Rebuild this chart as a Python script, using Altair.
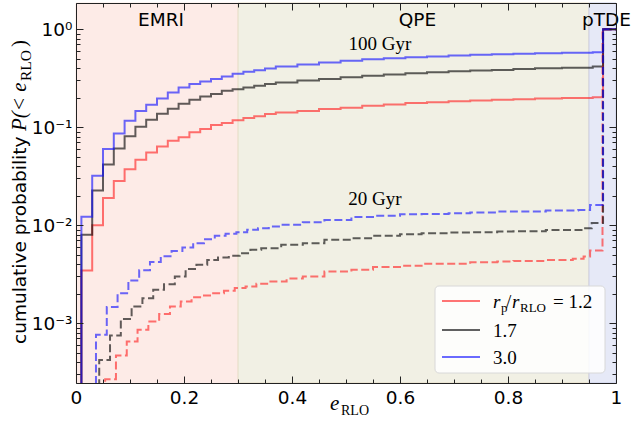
import altair as alt
import pandas as pd

# ---------------- data ----------------
regions = ["EMRI", "QPE", "pTDE"]
region_start = [0.0, 0.30, 0.95]
region_end = [0.30, 0.95, 1.00]

ratio_labels = ["1.2", "1.7", "3.0"]

# 100 Gyr (solid) -- common step edges
x_100gyr = [0.01, 0.03, 0.05, 0.07, 0.09, 0.11, 0.13, 0.15, 0.17, 0.19, 0.21,
            0.23, 0.25, 0.27, 0.29, 0.31, 0.33, 0.35, 0.37, 0.41, 0.45, 0.49,
            0.53, 0.57, 0.61, 0.65, 0.69, 0.73, 0.77, 0.81, 0.85, 0.90, 0.957,
            0.976, 1.0]
p100_r12 = [0.00344, 0.010, 0.0189, 0.0283, 0.0373, 0.0464, 0.0551, 0.0634,
            0.0725, 0.079, 0.0889, 0.096, 0.105, 0.110, 0.118, 0.124, 0.129,
            0.136, 0.141, 0.146, 0.153, 0.158, 0.165, 0.170, 0.176, 0.180,
            0.184, 0.187, 0.190, 0.193, 0.196, 0.199, 0.202, 1.0, 1.0]
p100_r17 = [0.008, 0.0226, 0.0416, 0.0605, 0.081, 0.1007, 0.119, 0.137, 0.154,
            0.173, 0.190, 0.205, 0.218, 0.235, 0.244, 0.254, 0.264, 0.275,
            0.285, 0.299, 0.311, 0.324, 0.334, 0.344, 0.356, 0.364, 0.373,
            0.378, 0.384, 0.392, 0.400, 0.405, 0.415, 1.0, 1.0]
p100_r30 = [0.0122, 0.032, 0.060, 0.086, 0.116, 0.146, 0.169, 0.196, 0.226,
            0.254, 0.275, 0.292, 0.311, 0.328, 0.350, 0.367, 0.382, 0.396,
            0.415, 0.435, 0.456, 0.475, 0.494, 0.506, 0.518, 0.527, 0.538,
            0.547, 0.556, 0.562, 0.569, 0.575, 0.582, 1.0, 1.0]

# 20 Gyr (dashed)
x20_r12 = [0.054, 0.074, 0.094, 0.114, 0.134, 0.154, 0.174, 0.194, 0.214,
           0.234, 0.254, 0.274, 0.294, 0.314, 0.334, 0.354, 0.39, 0.42, 0.46,
           0.51, 0.55, 0.60, 0.64, 0.69, 0.73, 0.78, 0.81, 0.87, 0.92, 0.94,
           0.952, 0.975, 1.0]
p20_r12 = [2.68e-4, 4.67e-4, 6.5e-4, 8.55e-4, 1.04e-3, 1.24e-3, 1.48e-3,
           1.66e-3, 1.84e-3, 1.91e-3, 2.02e-3, 2.14e-3, 2.28e-3, 2.37e-3,
           2.52e-3, 2.66e-3, 2.85e-3, 3.0e-3, 3.36e-3, 3.5e-3, 3.73e-3,
           3.85e-3, 4.03e-3, 4.03e-3, 4.19e-3, 4.25e-3, 4.32e-3, 4.4e-3,
           4.53e-3, 4.79e-3, 5.5e-3, 1.0, 1.0]
x20_r17 = [0.043, 0.063, 0.083, 0.103, 0.123, 0.143, 0.163, 0.183, 0.203,
           0.223, 0.243, 0.263, 0.283, 0.303, 0.323, 0.343, 0.38, 0.42, 0.46,
           0.51, 0.55, 0.60, 0.64, 0.69, 0.73, 0.78, 0.81, 0.87, 0.94, 0.955,
           0.976, 1.0]
p20_r17 = [4.2e-4, 7.5e-4, 1.1e-3, 1.48e-3, 1.8e-3, 2.19e-3, 2.5e-3, 2.99e-3,
           3.56e-3, 3.94e-3, 4.42e-3, 4.67e-3, 4.86e-3, 5.18e-3, 5.6e-3,
           5.82e-3, 6.3e-3, 6.55e-3, 7.08e-3, 7.36e-3, 7.78e-3, 8.09e-3,
           8.28e-3, 8.41e-3, 8.47e-3, 8.61e-3, 8.69e-3, 8.9e-3, 9.3e-3,
           1.05e-2, 1.0, 1.0]
x20_r30 = [0.037, 0.057, 0.077, 0.097, 0.117, 0.137, 0.157, 0.177, 0.197,
           0.217, 0.237, 0.257, 0.277, 0.297, 0.317, 0.337, 0.357, 0.38, 0.42,
           0.46, 0.51, 0.55, 0.60, 0.64, 0.69, 0.73, 0.78, 0.81, 0.87, 0.93,
           0.952, 0.976, 1.0]
p20_r30 = [7.6e-4, 1.46e-3, 2.02e-3, 2.73e-3, 3.46e-3, 4.2e-3, 4.83e-3,
           5.45e-3, 5.9e-3, 6.55e-3, 7.2e-3, 7.78e-3, 8.15e-3, 8.48e-3,
           8.96e-3, 9.3e-3, 9.68e-3, 1.01e-2, 1.07e-2, 1.13e-2, 1.21e-2,
           1.245e-2, 1.295e-2, 1.303e-2, 1.325e-2, 1.346e-2, 1.377e-2,
           1.38e-2, 1.41e-2, 1.43e-2, 1.61e-2, 1.0, 1.0]

# axis ticks / labels
x_major = [0.0, 0.2, 0.4, 0.6, 0.8, 1.0]
x_minor = [0.05, 0.1, 0.15, 0.25, 0.3, 0.35, 0.45, 0.5, 0.55, 0.65, 0.7, 0.75,
           0.85, 0.9, 0.95]
y_major = [1e-3, 1e-2, 1e-1, 1.0]
y_minor = [3e-4, 4e-4, 5e-4, 6e-4, 7e-4, 8e-4, 9e-4,
           2e-3, 3e-3, 4e-3, 5e-3, 6e-3, 7e-3, 8e-3, 9e-3,
           2e-2, 3e-2, 4e-2, 5e-2, 6e-2, 7e-2, 8e-2, 9e-2,
           0.2, 0.3, 0.4, 0.5, 0.6, 0.7, 0.8, 0.9]

# ---------------- styles ----------------
W, H = 540, 380
RED, GRAY, BLUE = "#ff2020", "#000000", "#1010ff"
LINE_OP = 0.62
region_fill = ["#fdebe7", "#f1f0e4", "#e6e9f7"]
region_edge = ["#fdebe7", "#e4dbc3", "#c9cde6"]
FLOOR = 1e-6  # below the visible range: cumulative probability of zero

XS = alt.Scale(domain=[0, 1], nice=False, zero=False)
YS = alt.Scale(type="log", domain=[2.45e-4, 1.85], nice=False)


def series(xs, ps):
    return pd.DataFrame({"x": [0.0] + list(xs), "p": [FLOOR] + list(ps)})


def line_layer(xs, ps, color, dashed):
    mk = dict(interpolate="step-after", clip=True, strokeWidth=2,
              color=color, strokeOpacity=LINE_OP)
    if dashed:
        mk["strokeDash"] = [8, 3.5]
    return alt.Chart(series(xs, ps)).mark_line(**mk).encode(
        x=alt.X("x:Q", scale=XS, axis=None),
        y=alt.Y("p:Q", scale=YS, axis=None),
    )


one = pd.DataFrame({"a": [0]})


def txt(s, x, y, size, font="Liberation Serif", style="normal", angle=0,
        align="left", baseline="alphabetic"):
    return alt.Chart(one).mark_text(
        font=font, fontSize=size, fontStyle=style, angle=angle, align=align,
        baseline=baseline, color="black"
    ).encode(x=alt.value(x), y=alt.value(y), text=alt.value(s))


bg_df = pd.DataFrame({"start": region_start, "end": region_end,
                      "name": regions, "fill": region_fill,
                      "edge": region_edge})

bg = alt.Chart(bg_df).mark_rect(strokeWidth=1).encode(
    x=alt.X("start:Q", scale=XS, axis=None),
    x2="end:Q",
    y=alt.value(0),
    y2=alt.value(H),
    color=alt.Color("fill:N", scale=None),
    stroke=alt.Stroke("edge:N", scale=None),
)

region_labels = alt.Chart(bg_df).transform_calculate(
    mid="(datum.start + datum.end) / 2"
).mark_text(font="DejaVu Sans", fontSize=18.5, dx=4, align="center",
            baseline="alphabetic", color="black").encode(
    x=alt.X("mid:Q", scale=XS, axis=None),
    y=alt.value(23),
    text="name:N",
)

lines = [
    line_layer(x_100gyr, p100_r12, RED, False),
    line_layer(x_100gyr, p100_r17, GRAY, False),
    line_layer(x_100gyr, p100_r30, BLUE, False),
    line_layer(x20_r12, p20_r12, RED, True),
    line_layer(x20_r17, p20_r17, GRAY, True),
    line_layer(x20_r30, p20_r30, BLUE, True),
]

annot = [
    txt("100 Gyr", 304, 47, 19, align="center"),
    txt("20 Gyr", 299, 202, 19, align="center"),
]

# legend (manual)
legend_box = alt.Chart(one).mark_rect(
    fill="white", fillOpacity=0.85, stroke="#d8d8d8", strokeWidth=1,
    cornerRadius=4
).encode(x=alt.value(359), x2=alt.value(529), y=alt.value(283),
         y2=alt.value(370))

legend_rows_y = [298, 327, 354]
legend_lines = []
for yy, col in zip(legend_rows_y, [RED, GRAY, BLUE]):
    legend_lines.append(
        alt.Chart(one).mark_rule(color=col, strokeWidth=2,
                                 strokeOpacity=LINE_OP).encode(
            x=alt.value(366), x2=alt.value(404), y=alt.value(yy))
    )
legend_text = [
    txt("r", 417, 305, 19, style="italic"),
    txt("p", 425, 309, 13),
    txt("/", 430, 305, 19),
    txt("r", 436, 305, 19, style="italic"),
    txt("RLO", 444, 309, 13),
    txt("= " + ratio_labels[0], 477, 305, 19),
    txt(ratio_labels[1], 417, 334, 19),
    txt(ratio_labels[2], 417, 361, 19),
]

# axis titles
titles = [
    txt("e", 254, 407, 21, style="italic"),
    txt("RLO", 265, 412, 14),
    txt("cumulative probability", -50, 341, 18.5, font="DejaVu Sans",
        angle=270),
    txt("P(< e", -50, 128, 21, style="italic", angle=270),
    txt("RLO", -45, 78, 15.5, angle=270),
    txt(")", -50, 44, 21, angle=270),
]

# axes (inward ticks on all four sides)
common = dict(grid=False, title=None, tickColor="#222222",
              domainColor="#222222", tickWidth=1, domainWidth=1, zindex=2,
              labelFont="DejaVu Sans", labelFontSize=18.5, labelColor="black",
              labelOverlap=False)
x_lab = ("datum.value == 0 ? '0' : datum.value == 1 ? '1' : "
         "format(datum.value, '.1f')")
y_lab = ("datum.value >= 0.5 ? '10⁰' : datum.value >= 0.05 ? '10⁻¹' : "
         "datum.value >= 0.005 ? '10⁻²' : '10⁻³'")

ax_xb_major = alt.Axis(orient="bottom", values=x_major,
                       tickSize=alt.ExprRef(expr="-7"), labelPadding=12,
                       labelExpr=x_lab, labelFlush=False, domain=True, **common)
ax_yl_major = alt.Axis(orient="left", values=y_major,
                       tickSize=alt.ExprRef(expr="-7"), labelPadding=11,
                       labelExpr=y_lab, domain=True, **common)
ax_xb_minor = alt.Axis(orient="bottom", values=x_minor,
                       tickSize=alt.ExprRef(expr="-4"), labels=False,
                       domain=False, **common)
ax_yl_minor = alt.Axis(orient="left", values=y_minor,
                       tickSize=alt.ExprRef(expr="-4"), labels=False,
                       domain=False, **common)
ax_xt_major = alt.Axis(orient="top", values=x_major,
                       tickSize=alt.ExprRef(expr="-7"), labels=False,
                       domain=True, **common)
ax_yr_major = alt.Axis(orient="right", values=y_major,
                       tickSize=alt.ExprRef(expr="-7"), labels=False,
                       domain=True, **common)
ax_xt_minor = alt.Axis(orient="top", values=x_minor,
                       tickSize=alt.ExprRef(expr="-4"), labels=False,
                       domain=False, **common)
ax_yr_minor = alt.Axis(orient="right", values=y_minor,
                       tickSize=alt.ExprRef(expr="-4"), labels=False,
                       domain=False, **common)

dummy = pd.DataFrame({"x": [0.5], "p": [0.1]})


def axis_layer(xa, ya):
    return alt.Chart(dummy).mark_point(opacity=0).encode(
        x=alt.X("x:Q", scale=XS, axis=xa),
        y=alt.Y("p:Q", scale=YS, axis=ya),
    )


axes = [
    axis_layer(ax_xb_major, ax_yl_major),
    axis_layer(ax_xb_minor, ax_yl_minor),
    axis_layer(ax_xt_major, ax_yr_major),
    axis_layer(ax_xt_minor, ax_yr_minor),
]

chart = alt.layer(
    bg, region_labels, *lines, *annot, legend_box, *legend_lines,
    *legend_text, *titles, *axes
).resolve_axis(x="independent", y="independent").properties(
    width=W, height=H,
    autosize=alt.AutoSizeParams(type="none"),
    padding={"left": 76, "top": 3, "right": 17, "bottom": 47},
    background="white",
).configure_view(stroke=None)

chart.save("out.html", embed_options={"renderer": "svg", "actions": False})
